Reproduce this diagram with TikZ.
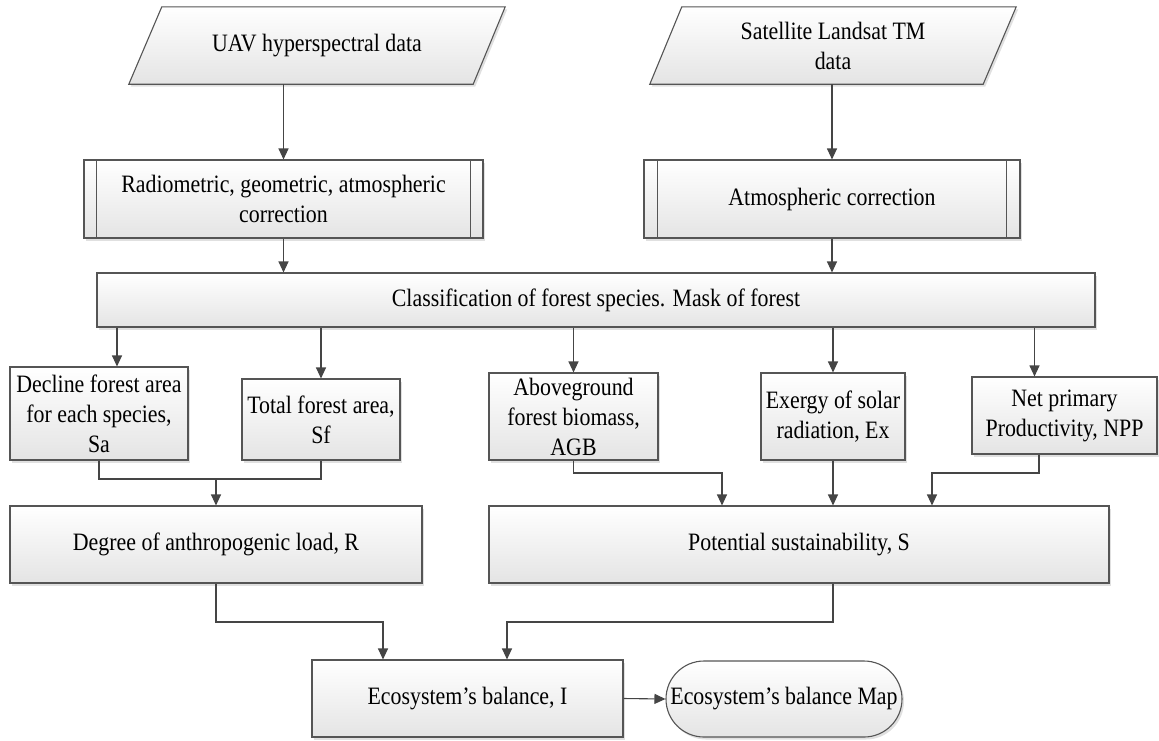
\documentclass[tikz,border=0pt]{standalone}
\usepackage{fontspec}
\setmainfont{Liberation Serif}[FakeStretch=0.875]
\usetikzlibrary{arrows.meta,shadows,calc}
\pgfdeclarelayer{background}
\pgfsetlayers{background,main}
\definecolor{bordc}{HTML}{555555}
\definecolor{linec}{HTML}{454545}
\definecolor{fillc}{HTML}{E4E4E4}
\tikzset{
  shapefill/.style={draw=bordc, line width=1.1pt, top color=white, bottom color=fillc,
    drop shadow={shadow xshift=2pt, shadow yshift=-2.5pt, fill=black, opacity=0.12}},
  box/.style={shapefill, rectangle, align=center, inner sep=0pt, font=\fontsize{25}{30}\selectfont},
  holder/.style={rectangle, align=center, inner sep=0pt, font=\fontsize{25}{30}\selectfont},
  conn/.style={draw=linec, line width=1.1pt},
  arr/.style={conn, -{Triangle[length=11pt,width=10pt]}},
}
\begin{document}
\begin{tikzpicture}[x=1pt,y=-1pt]
\useasboundingbox (0,0) rectangle (1159,740);

% input data (parallelograms)
\node[holder, minimum width=376pt, minimum height=77pt] (uav) at (317,45.5) {UAV hyperspectral data};
\node[holder, minimum width=366pt, minimum height=77pt] (sat) at (833,45.5) {Satellite Landsat TM\\data};
\begin{pgfonlayer}{background}
\path[shapefill] ([xshift=33pt]uav.north west) -- (uav.north east) -- ([xshift=-32pt]uav.south east) -- (uav.south west) -- cycle;
\path[shapefill] ([xshift=32pt]sat.north west) -- (sat.north east) -- ([xshift=-33pt]sat.south east) -- (sat.south west) -- cycle;
\end{pgfonlayer}

% predefined processes
\node[box, minimum width=399pt, minimum height=78pt] (rad) at (283.5,199) {Radiometric, geometric, atmospheric\\correction};
\node[box, minimum width=376pt, minimum height=78pt] (atm) at (832,199) {Atmospheric correction};
\draw[draw=bordc, line width=1.1pt] ([xshift=13pt]rad.north west) -- ([xshift=13pt]rad.south west)
  ([xshift=-13pt]rad.north east) -- ([xshift=-13pt]rad.south east);
\draw[draw=bordc, line width=1.1pt] ([xshift=14pt]atm.north west) -- ([xshift=14pt]atm.south west)
  ([xshift=-14pt]atm.north east) -- ([xshift=-14pt]atm.south east);

% classification
\node[box, minimum width=998pt, minimum height=54pt] (cls) at (596,300) {Classification of forest species. Mask of forest};

% indicators
\node[box, minimum width=178pt, minimum height=93pt] (dec) at (99,413.5) {Decline forest area\\for each species,\\Sa};
\node[box, minimum width=158pt, minimum height=81pt] (tot) at (321,419.5) {Total forest area,\\Sf};
\node[box, minimum width=169pt, minimum height=87pt] (agb) at (573.5,416.5) {Aboveground\\forest biomass,\\AGB};
\node[box, minimum width=144pt, minimum height=87pt] (exg) at (833,416.5) {Exergy of solar\\radiation, Ex};
\node[box, minimum width=185pt, minimum height=77pt] (npp) at (1064.5,415.5) {Net primary\\Productivity, NPP};

% aggregates
\node[box, minimum width=412pt, minimum height=77pt] (deg) at (216,544.5) {Degree of anthropogenic load, R};
\node[box, minimum width=620pt, minimum height=77pt] (pot) at (799,544.5) {Potential sustainability, S};

% result
\node[box, minimum width=311pt, minimum height=77pt] (eco) at (467.5,698.5) {Ecosystem’s balance, I};
\node[box, rounded corners=38pt, minimum width=236pt, minimum height=76pt] (map) at (784,699) {Ecosystem’s balance Map};

% helper coordinates
\coordinate (d1) at ([xshift=18pt]dec.north);
\coordinate (n1) at ([xshift=-30pt]npp.north);
\coordinate (n2) at ([xshift=-25.5pt]npp.south);
\coordinate (r1) at (0,473);
\coordinate (m1) at (216,479);
\coordinate (r2) at (0,622);
\coordinate (p2) at ([xshift=-77pt]pot.north);
\coordinate (p3) at ([xshift=133pt]pot.north);
\coordinate (e1) at ([xshift=-84.5pt]eco.north);
\coordinate (e2) at ([xshift=39.5pt]eco.north);

% connectors
\draw[arr] (rad.north |- uav.south) -- (rad.north);
\draw[arr] (atm.north |- sat.south) -- (atm.north);
\draw[arr] (rad.south) -- (rad.south |- cls.north);
\draw[arr] (atm.south) -- (atm.south |- cls.north);
\draw[arr] (d1 |- cls.south) -- (d1);
\draw[arr] (tot.north |- cls.south) -- (tot.north);
\draw[arr] (agb.north |- cls.south) -- (agb.north);
\draw[arr] (exg.north |- cls.south) -- (exg.north);
\draw[arr] (n1 |- cls.south) -- (n1);

\draw[conn] (dec.south) |- (m1) -| (tot.south);
\draw[arr] (m1) -- (deg.north);

\draw[arr] (agb.south) |- (p2 |- r1) -- (p2);
\draw[arr] (exg.south) -- (exg.south |- pot.north);
\draw[arr] (n2) |- (p3 |- r1) -- (p3);

\draw[arr] (deg.south) |- (e1 |- r2) -- (e1);
\draw[arr] (exg.south |- pot.south) |- (e2 |- r2) -- (e2);

\draw[arr] (eco.east) -- (map.west);
\end{tikzpicture}
\end{document}
